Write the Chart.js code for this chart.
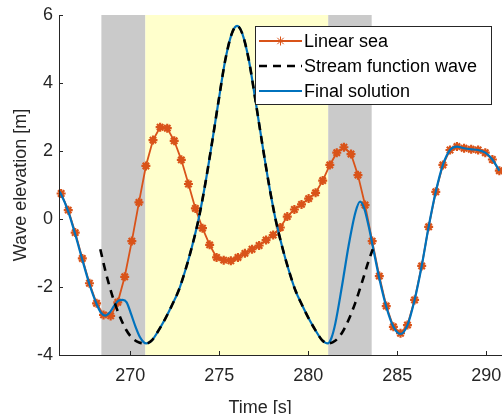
<!DOCTYPE html>
<html>
<head>
<meta charset="utf-8">
<script src="https://cdn.jsdelivr.net/npm/chart.js@4/dist/chart.umd.min.js"></script>
<style>
  html, body { margin: 0; padding: 0; background: #fff; }
</style>
</head>
<body>
<canvas id="waveChart" width="502" height="414"></canvas>
<script>
// linear sea, sampled every ~0.4 s
var seaTime = [266.12, 266.52, 266.91, 267.31, 267.71, 268.11, 268.50, 268.90, 269.30, 269.69,
  270.09, 270.49, 270.88, 271.28, 271.68, 272.08, 272.47, 272.87, 273.27, 273.66,
  274.06, 274.46, 274.85, 275.25, 275.65, 276.05, 276.44, 276.84, 277.24, 277.63,
  278.03, 278.43, 278.82, 279.22, 279.62, 280.02, 280.41, 280.81, 281.21, 281.60,
  282.00, 282.40, 282.79, 283.19, 283.59, 283.99, 284.38, 284.78, 285.18, 285.57,
  285.97, 286.37, 286.76, 287.16, 287.56, 287.96, 288.35, 288.75, 289.15, 289.54,
  289.94, 290.34, 290.73];
var seaElev = [0.75, 0.26, -0.40, -1.16, -1.89, -2.48, -2.82, -2.85, -2.45, -1.70,
  -0.65, 0.49, 1.56, 2.32, 2.70, 2.67, 2.30, 1.74, 1.03, 0.31,
  -0.27, -0.76, -1.13, -1.21, -1.23, -1.13, -1.01, -0.89, -0.78, -0.62,
  -0.47, -0.25, 0.07, 0.28, 0.43, 0.60, 0.77, 1.13, 1.59, 1.95,
  2.11, 1.91, 1.29, 0.41, -0.65, -1.68, -2.56, -3.17, -3.36, -3.12,
  -2.38, -1.38, -0.23, 0.80, 1.59, 2.03, 2.13, 2.08, 2.05, 2.03,
  1.95, 1.75, 1.42];

// stream function wave
var streamTime = [268.32, 268.64, 269.01, 269.38, 269.76, 270.13, 270.50, 270.90, 271.23, 271.61,
  271.98, 272.35, 272.73, 273.10, 273.47, 273.85, 274.22, 274.59, 274.97, 275.34,
  275.71, 276.00, 276.29, 276.66, 277.03, 277.41, 277.78, 278.15, 278.53, 278.90,
  279.27, 279.65, 280.02, 280.39, 280.77, 281.10, 281.51, 281.88, 282.26, 282.63,
  283.00, 283.38, 283.62];
var streamElev = [-0.89, -1.60, -2.28, -2.82, -3.25, -3.51, -3.63, -3.66, -3.56, -3.26,
  -2.92, -2.53, -2.09, -1.50, -0.81, 0.02, 1.05, 2.23, 3.50, 4.68,
  5.46, 5.68, 5.46, 4.68, 3.50, 2.23, 1.05, 0.02, -0.81, -1.50,
  -2.09, -2.53, -2.92, -3.26, -3.56, -3.66, -3.58, -3.36, -2.97, -2.48,
  -1.89, -1.25, -0.89];

// final solution (blended)
var finalTime = [266.00, 266.12, 266.52, 266.91, 267.31, 267.71, 268.11, 268.35, 268.60, 268.85,
  269.10, 269.35, 269.57, 269.80, 270.05, 270.30, 270.55, 270.75, 270.90, 271.23,
  271.61, 271.98, 272.35, 272.73, 273.10, 273.47, 273.85, 274.22, 274.59, 274.97,
  275.34, 275.71, 276.00, 276.29, 276.66, 277.03, 277.41, 277.78, 278.15, 278.53,
  278.90, 279.27, 279.65, 280.02, 280.39, 280.77, 281.10, 281.30, 281.52, 281.90,
  282.27, 282.65, 282.91, 283.15, 283.40, 283.62, 283.99, 284.38, 284.78, 285.18,
  285.57, 285.97, 286.37, 286.76, 287.16, 287.56, 287.96, 288.35, 288.75, 289.15,
  289.54, 289.94, 290.34, 290.73];
var finalElev = [0.82, 0.72, 0.22, -0.45, -1.20, -1.92, -2.50, -2.75, -2.84, -2.75,
  -2.55, -2.40, -2.38, -2.45, -2.80, -3.17, -3.48, -3.62, -3.66, -3.56,
  -3.26, -2.92, -2.53, -2.09, -1.50, -0.81, 0.02, 1.05, 2.23, 3.50,
  4.68, 5.46, 5.68, 5.46, 4.68, 3.50, 2.23, 1.05, 0.02, -0.81,
  -1.50, -2.09, -2.53, -2.92, -3.26, -3.56, -3.66, -3.50, -3.07, -1.95,
  -0.77, 0.20, 0.51, 0.30, -0.23, -0.80, -1.75, -2.58, -3.17, -3.38,
  -3.12, -2.38, -1.38, -0.23, 0.80, 1.59, 2.03, 2.13, 2.08, 2.05,
  2.03, 1.95, 1.75, 1.42];

var xTicks = [270, 275, 280, 285, 290];
var yTicks = [-4, -2, 0, 2, 4, 6];

// shaded time windows
var bandStart = [268.38, 270.85, 281.12];
var bandEnd = [270.85, 281.12, 283.56];
var bandColor = ['#cacaca', '#ffffcc', '#cacaca'];

var seriesNames = ['Linear sea', 'Stream function wave', 'Final solution'];
var seriesColors = ['#d95319', '#000000', '#0072bd'];

var fontFam = '"Liberation Sans", Arial, Helvetica, sans-serif';
var axisColor = '#262626';

function pts(t, v) {
    return t.map(function (ti, i) { return { x: ti, y: v[i] }; });
}

var decorPlugin = {
    id: 'decor',
    beforeDraw: function (chart) {
        var ctx = chart.ctx, a = chart.chartArea, x = chart.scales.x;
        ctx.save();
        for (var i = 0; i < bandStart.length; i++) {
            var x0 = x.getPixelForValue(bandStart[i]);
            var x1 = x.getPixelForValue(bandEnd[i]);
            ctx.fillStyle = bandColor[i];
            ctx.fillRect(x0, a.top, x1 - x0, a.bottom - a.top);
        }
        ctx.restore();
    },
    afterDraw: function (chart) {
        var ctx = chart.ctx, a = chart.chartArea, x = chart.scales.x, y = chart.scales.y;
        ctx.save();
        // axes + inward ticks
        ctx.strokeStyle = axisColor;
        ctx.lineWidth = 1;
        ctx.beginPath();
        ctx.moveTo(a.left + 0.5, a.top);
        ctx.lineTo(a.left + 0.5, a.bottom + 0.5);
        ctx.lineTo(a.right, a.bottom + 0.5);
        xTicks.forEach(function (v) {
            var px = Math.round(x.getPixelForValue(v)) + 0.5;
            ctx.moveTo(px, a.bottom);
            ctx.lineTo(px, a.bottom - 4);
        });
        yTicks.forEach(function (v) {
            var py = Math.round(y.getPixelForValue(v)) + 0.5;
            ctx.moveTo(a.left, py);
            ctx.lineTo(a.left + 4, py);
        });
        ctx.stroke();

        // axis titles
        ctx.fillStyle = axisColor;
        ctx.font = '18px ' + fontFam;
        ctx.textAlign = 'center';
        ctx.textBaseline = 'alphabetic';
        ctx.fillText('Time [s]', x.getPixelForValue(277.3), 413);
        ctx.save();
        ctx.translate(26, (a.top + a.bottom) / 2);
        ctx.rotate(-Math.PI / 2);
        ctx.fillText('Wave elevation [m]', 0, 0);
        ctx.restore();

        // legend
        var lx = 255.5, ly = 26.5, lw = 236, lh = 78;
        ctx.fillStyle = '#ffffff';
        ctx.fillRect(lx, ly, lw, lh);
        ctx.strokeStyle = axisColor;
        ctx.strokeRect(lx, ly, lw, lh);
        var rows = [41, 66, 91];
        chart.data.datasets.forEach(function (ds, i) {
            var ry = rows[i];
            ctx.save();
            ctx.strokeStyle = ds.borderColor;
            ctx.lineWidth = ds.borderWidth;
            ctx.setLineDash(ds.borderDash || []);
            ctx.beginPath();
            ctx.moveTo(259, ry);
            ctx.lineTo(302, ry);
            ctx.stroke();
            ctx.restore();
            if (ds.pointRadius > 0) {
                ctx.save();
                ctx.strokeStyle = ds.borderColor;
                ctx.fillStyle = ds.borderColor;
                Chart.helpers.drawPoint(ctx, {
                    pointStyle: ds.pointStyle, radius: ds.pointRadius,
                    borderWidth: ds.pointBorderWidth, rotation: 0
                }, 280.5, ry);
                ctx.restore();
            }
            ctx.fillStyle = '#000';
            ctx.textAlign = 'left';
            ctx.textBaseline = 'middle';
            ctx.font = '18px ' + fontFam;
            ctx.fillText(ds.label, 304, ry + 1);
        });
        ctx.restore();
    }
};

var waveChart = new Chart(document.getElementById('waveChart'), {
    type: 'line',
    data: {
        datasets: [
            {
                label: seriesNames[0], data: pts(seaTime, seaElev),
                borderColor: seriesColors[0], backgroundColor: seriesColors[0],
                borderWidth: 1.8, pointStyle: 'star', pointRadius: 4.5, pointBorderWidth: 2.2,
                pointBorderColor: seriesColors[0], tension: 0, order: 3, clip: 6
            },
            {
                label: seriesNames[1], data: pts(streamTime, streamElev),
                borderColor: seriesColors[1], borderWidth: 2.6, borderDash: [8, 6],
                pointRadius: 0, cubicInterpolationMode: 'monotone', order: 1
            },
            {
                label: seriesNames[2], data: pts(finalTime, finalElev),
                borderColor: seriesColors[2], borderWidth: 2.2,
                pointRadius: 0, cubicInterpolationMode: 'monotone', order: 2
            }
        ]
    },
    options: {
        responsive: false,
        animation: false,
        devicePixelRatio: 1,
        layout: { autoPadding: false, padding: { top: 15, right: 0, left: 0, bottom: 0 } },
        plugins: { legend: { display: false }, tooltip: { enabled: false } },
        scales: {
            x: {
                type: 'linear', min: 266, max: 290.88,
                afterBuildTicks: function (s) { s.ticks = xTicks.map(function (v) { return { value: v }; }); },
                afterFit: function (s) { s.height = 59; s.paddingLeft = 0; s.paddingRight = 0; },
                grid: { display: false, drawTicks: false },
                border: { display: false },
                ticks: {
                    font: { family: fontFam, size: 18 }, color: axisColor,
                    padding: 10, maxRotation: 0, autoSkip: false
                }
            },
            y: {
                min: -4, max: 6,
                afterBuildTicks: function (s) { s.ticks = yTicks.map(function (v) { return { value: v }; }); },
                afterFit: function (s) { s.width = 59; s.paddingTop = 0; s.paddingBottom = 0; },
                grid: { display: false, drawTicks: false },
                border: { display: false },
                ticks: { font: { family: fontFam, size: 18 }, color: axisColor, padding: 6 }
            }
        }
    },
    plugins: [decorPlugin]
});
</script>
</body>
</html>
